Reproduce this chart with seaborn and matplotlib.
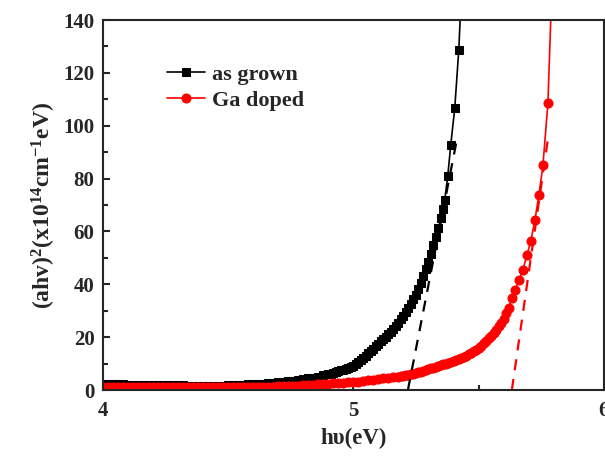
import pandas as pd
import matplotlib
matplotlib.use("Agg")
import matplotlib.pyplot as plt
import seaborn as sns

# as grown sample
grown_e = [4.00, 4.02, 4.04, 4.06, 4.08, 4.10, 4.12, 4.14, 4.16, 4.18,
           4.20, 4.22, 4.24, 4.26, 4.28, 4.30, 4.32, 4.34, 4.36, 4.38,
           4.40, 4.42, 4.44, 4.46, 4.48, 4.50, 4.52, 4.54, 4.56, 4.58,
           4.60, 4.62, 4.64, 4.66, 4.68, 4.70, 4.72, 4.74, 4.76, 4.78,
           4.80, 4.82, 4.84, 4.86, 4.88,
           4.90, 4.91, 4.92, 4.93, 4.94, 4.95, 4.96, 4.97, 4.98, 4.99,
           5.00, 5.01, 5.02, 5.03, 5.04, 5.05, 5.06, 5.07, 5.08, 5.09,
           5.10, 5.11, 5.12, 5.13, 5.14, 5.15, 5.16, 5.17, 5.18, 5.19,
           5.20, 5.21, 5.22, 5.23, 5.24, 5.25, 5.26, 5.27, 5.28, 5.29,
           5.30, 5.31, 5.32, 5.33, 5.34, 5.35, 5.358, 5.365, 5.377, 5.389,
           5.405, 5.421, 5.436]
grown_y = [2.2, 2.2, 2.1, 2.1, 2.1, 2.0, 2.0, 2.0, 1.9, 1.9,
           1.9, 1.9, 1.8, 1.8, 1.8, 1.8, 1.8, 1.7, 1.7, 1.7,
           1.7, 1.7, 1.7, 1.7, 1.7, 1.8, 1.8, 1.9, 2.0, 2.1,
           2.2, 2.3, 2.4, 2.6, 2.7, 2.9, 3.1, 3.3, 3.5, 3.8,
           4.1, 4.4, 4.7, 5.1, 5.5,
           5.9, 6.2, 6.5, 6.8, 7.1, 7.4, 7.7, 8.0, 8.3, 8.6,
           9.0, 9.8, 10.6, 11.4, 12.2, 13.0, 13.9, 14.8, 15.7, 16.6,
           17.5, 18.4, 19.3, 20.2, 21.1, 22.0, 23.1, 24.3, 25.5, 26.7,
           28.0, 29.5, 31.0, 32.6, 34.3, 36.0, 38.2, 40.5, 43.0, 45.7,
           48.5, 51.5, 54.7, 58.0, 61.4, 65.0, 68.5, 72.0, 81.0, 92.7,
           106.7, 128.6, 160.0]

# Ga doped sample
doped_e = [4.00, 4.02, 4.04, 4.06, 4.08, 4.10, 4.12, 4.14, 4.16, 4.18,
           4.20, 4.22, 4.24, 4.26, 4.28, 4.30, 4.32, 4.34, 4.36, 4.38,
           4.40, 4.42, 4.44, 4.46, 4.48, 4.50, 4.52, 4.54, 4.56, 4.58,
           4.60, 4.62, 4.64, 4.66, 4.68, 4.70, 4.72, 4.74, 4.76, 4.78,
           4.80, 4.82, 4.84, 4.86, 4.88, 4.90, 4.92, 4.94, 4.96, 4.98,
           5.00, 5.02, 5.04, 5.06, 5.08, 5.10, 5.12, 5.14, 5.16, 5.18,
           5.19, 5.20, 5.21, 5.22, 5.23, 5.24, 5.25, 5.26, 5.27, 5.28,
           5.29, 5.30, 5.31, 5.32, 5.33, 5.34, 5.35, 5.36, 5.37, 5.38,
           5.39, 5.40, 5.41, 5.42, 5.43, 5.44, 5.45, 5.46, 5.47, 5.48,
           5.49, 5.50, 5.51, 5.52, 5.53, 5.54, 5.55, 5.56, 5.57, 5.58,
           5.59, 5.60, 5.61, 5.62, 5.633, 5.645, 5.661, 5.677, 5.693, 5.709,
           5.725, 5.741, 5.757, 5.777, 5.790]
doped_y = [1.3, 1.3, 1.3, 1.3, 1.2, 1.2, 1.2, 1.2, 1.2, 1.1,
           1.1, 1.1, 1.1, 1.1, 1.1, 1.0, 1.0, 1.0, 1.0, 1.0,
           1.0, 1.0, 1.0, 1.0, 1.0, 1.0, 1.0, 1.0, 1.1, 1.1,
           1.1, 1.2, 1.2, 1.3, 1.3, 1.4, 1.5, 1.5, 1.6, 1.7,
           1.8, 1.9, 2.0, 2.1, 2.2, 2.3, 2.5, 2.6, 2.7, 2.9,
           3.0, 3.2, 3.5, 3.7, 3.9, 4.2, 4.4, 4.6, 4.8, 5.0,
           5.15, 5.3, 5.5, 5.8, 6.0, 6.2, 6.5, 6.8, 7.0, 7.3,
           7.6, 7.9, 8.2, 8.5, 8.8, 9.1, 9.4, 9.7, 10.0, 10.3,
           10.7, 11.0, 11.4, 11.8, 12.2, 12.6, 13.0, 13.5, 14.1, 14.7,
           15.3, 16.0, 16.8, 17.6, 18.5, 19.5, 20.5, 21.6, 22.8, 24.1,
           25.5, 27.0, 29.0, 31.0, 34.8, 37.8, 41.6, 45.4, 51.0, 56.5,
           64.3, 73.8, 85.0, 108.6, 145.0]

# linear extrapolation of the absorption edge (band gap)
fit_grown_e = [5.218, 5.417]
fit_grown_y = [0.0, 96.5]
fit_doped_e = [5.633, 5.777]
fit_doped_y = [0.0, 95.0]

sns.set_theme(style="ticks")
plt.rcParams['font.family'] = ['Liberation Serif', 'DejaVu Serif']
plt.rcParams['font.weight'] = 'bold'
plt.rcParams['mathtext.fontset'] = 'custom'
plt.rcParams['mathtext.rm'] = 'Liberation Serif:bold'
plt.rcParams['mathtext.bf'] = 'Liberation Serif:bold'
plt.rcParams['mathtext.it'] = 'Liberation Serif:bold'

df_grown = pd.DataFrame({"E": grown_e, "y": grown_y})
df_doped = pd.DataFrame({"E": doped_e, "y": doped_y})

fig = plt.figure(figsize=(6.05, 4.57), dpi=100)
ax = fig.add_axes([0.170, 0.1466, 0.828, 0.8096])

sns.lineplot(data=df_grown, x="E", y="y", ax=ax, color="black", marker="s",
             markersize=6, markeredgecolor="black", linewidth=1.2,
             label="as grown", sort=False)
sns.lineplot(data=df_doped, x="E", y="y", ax=ax, color="red", marker="o",
             markersize=6.5, markeredgecolor="red", linewidth=1.2,
             label="Ga doped", sort=False)
ax.plot(fit_grown_e, fit_grown_y, color="black", linestyle=(0, (5, 4)), linewidth=1.6)
ax.plot(fit_doped_e, fit_doped_y, color="red", linestyle=(0, (5, 4)), linewidth=1.6)

ax.set_xlim(4, 6)
ax.set_ylim(0, 140)
ax.set_xticks([4, 5, 6])
ax.set_xticks([4.5, 5.5], minor=True)
ax.set_yticks(range(0, 141, 20))
ax.set_yticks(range(10, 140, 20), minor=True)
ax.tick_params(which="both", direction="in", width=1.5, labelsize=15)
ax.tick_params(axis="x", pad=8)
ax.tick_params(axis="y", pad=6)
ax.tick_params(which="major", length=5)
ax.tick_params(which="minor", length=3.5)
for s in ax.spines.values():
    s.set_linewidth(1.5)
    s.set_visible(True)

ax.set_xlabel("hυ(eV)", fontsize=16.5, fontweight="bold", labelpad=5)
ax.set_ylabel(r"(ahv)$^{2}$(x10$^{14}$cm$^{-1}$eV)", fontsize=17,
              fontweight="bold", labelpad=4)

leg = ax.legend(loc="upper left", bbox_to_anchor=(0.105, 0.91), frameon=False,
                fontsize=16, handlelength=1.75, handletextpad=0.3,
                labelspacing=0.25, borderpad=0)
for t in leg.get_texts():
    t.set_fontweight("bold")

fig.savefig("out.png", dpi=100)
